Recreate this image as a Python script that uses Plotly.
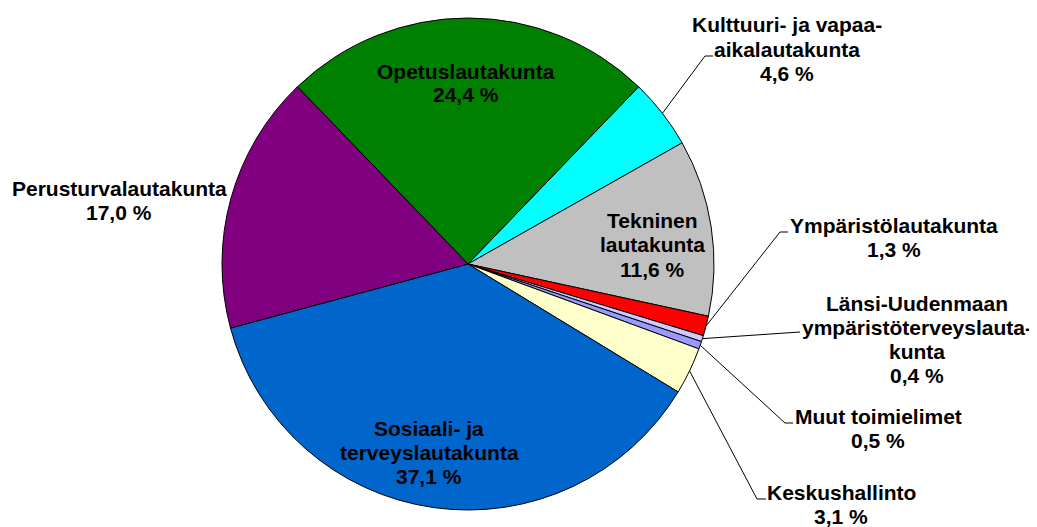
import math
import plotly.graph_objects as go

labels = ["Opetuslautakunta", "Kulttuuri- ja vapaa-aikalautakunta", "Tekninen lautakunta",
          "Ympäristölautakunta", "Länsi-Uudenmaan ympäristöterveyslautakunta",
          "Muut toimielimet", "Keskushallinto", "Sosiaali- ja terveyslautakunta",
          "Perusturvalautakunta"]
values = [24.4, 4.6, 11.6, 1.3, 0.4, 0.5, 3.1, 37.1, 17.0]
colors = ["#008000", "#00FFFF", "#C0C0C0", "#FF0000", "#CCCCFF", "#9999FF",
          "#FFFFCC", "#0066CC", "#800080"]
label_lines = [
    ["Opetuslautakunta"],
    ["Kulttuuri- ja vapaa-", "aikalautakunta"],
    ["Tekninen", "lautakunta"],
    ["Ympäristölautakunta"],
    ["Länsi-Uudenmaan", "ympäristöterveyslauta-", "kunta"],
    ["Muut toimielimet"],
    ["Keskushallinto"],
    ["Sosiaali- ja", "terveyslautakunta"],
    ["Perusturvalautakunta"],
]

# page pixels (browser body has an 8px margin)
OFF = 8
W, H = 1037 - OFF, 527 - OFF
CX, CY, R = 468, 264, 246
ROT = -43.9
LINE = 24

# label first-line centre (px) and leader elbow points (px) — layout only
label_pos = [(466, 71), (787, 25), (652, 221), (894, 225), (917, 303),
             (878, 416), (841, 492), (429, 428), (119, 188)]
leaders = {1: [(705, 56), (713, 56)],
           3: [(780, 232), (788, 232)],
           4: [(800, 332)],
           5: [(785, 423), (793, 423)],
           6: [(757, 499), (766, 499)]}


def px(x):
    return (x - OFF) / W


def py(y):
    return 1 - (y - OFF) / H


fig = go.Figure(go.Pie(
    labels=labels, values=values, sort=False, direction="clockwise",
    rotation=ROT, textinfo="none", hoverinfo="label+percent",
    marker=dict(colors=colors, line=dict(color="black", width=1)),
    domain=dict(x=[px(CX - R), px(CX + R)], y=[py(CY + R), py(CY - R)]),
    showlegend=False,
))

total = sum(values)
annotations = []
shapes = []
cum = 0.0
font = dict(family="Liberation Sans, Arial, sans-serif", size=21, color="black")
for i, (v, lines) in enumerate(zip(values, label_lines)):
    mid = ROT + (cum + v / 2) / total * 360
    cum += v
    pct = f"{v:.1f}".replace(".", ",") + " %"
    lx, ly = label_pos[i]
    for k, line in enumerate(lines + [pct]):
        annotations.append(dict(x=px(lx), y=py(ly + k * LINE), xref="paper", yref="paper",
                                text="<b>" + line + "</b>", showarrow=False, font=font,
                                xanchor="center", yanchor="middle", align="center"))
    if i in leaders:
        a = math.radians(mid)
        sx, sy = CX + R * math.sin(a), CY - R * math.cos(a)
        pts = [(sx, sy)] + leaders[i]
        for (x0, y0), (x1, y1) in zip(pts[:-1], pts[1:]):
            shapes.append(dict(type="line", xref="paper", yref="paper",
                               x0=px(x0), y0=py(y0), x1=px(x1), y1=py(y1),
                               line=dict(color="black", width=1)))

fig.update_layout(width=W, height=H, margin=dict(l=0, r=0, t=0, b=0),
                  paper_bgcolor="white", plot_bgcolor="white",
                  annotations=annotations, shapes=shapes)
fig.write_html("out.html")
